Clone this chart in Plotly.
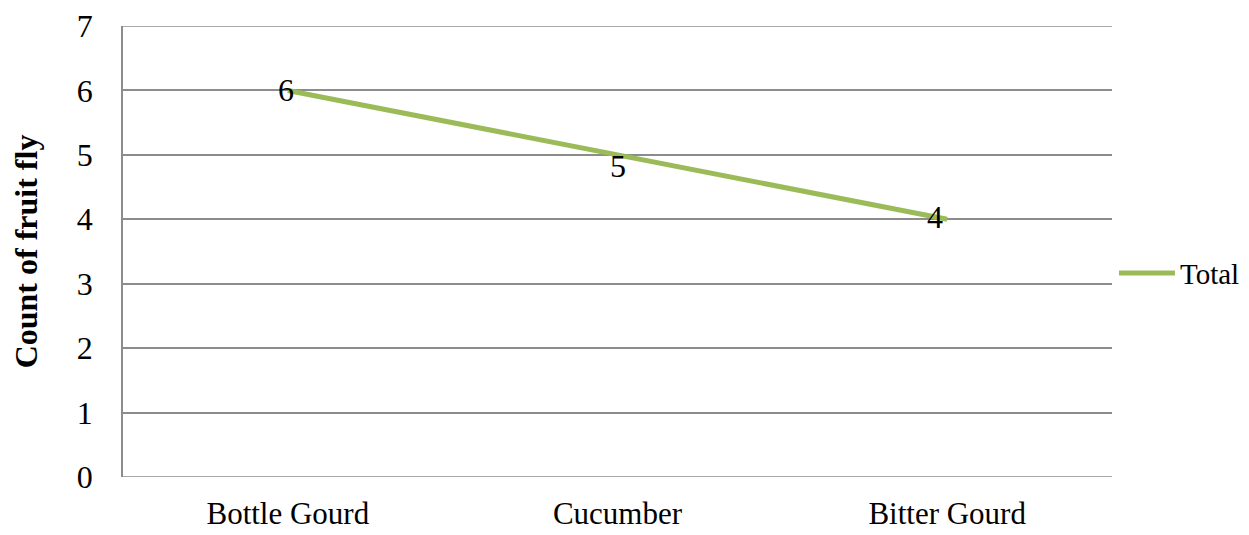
import plotly.graph_objects as go

categories = ["Bottle Gourd", "Cucumber", "Bitter Gourd"]
counts = [6, 5, 4]
series_name = "Total"

FONT = "Liberation Serif, Times New Roman, serif"
GREEN = "#9BBB59"
GRID = "#8C8C8C"

fig = go.Figure()
fig.add_trace(go.Scatter(
    x=categories, y=counts, mode="lines", name=series_name,
    line=dict(color=GREEN, width=5),
))

# data labels, nudged around each point
label_shift = [(-2, 0), (0, -11), (-12, 2)]
for cat, val, (dx, dy) in zip(categories, counts, label_shift):
    fig.add_annotation(x=cat, y=val, text=str(val), showarrow=False,
                       xshift=dx, yshift=dy,
                       font=dict(family=FONT, size=32, color="black"))

fig.update_layout(
    width=1249, height=535,
    margin=dict(l=123, r=137, t=26, b=58, autoexpand=False),
    paper_bgcolor="white", plot_bgcolor="white",
    font=dict(family=FONT, size=32, color="black"),
    showlegend=True,
    legend=dict(x=1.002, y=0.452, xanchor="left", yanchor="middle",
                font=dict(family=FONT, size=29), itemwidth=56,
                bgcolor="rgba(0,0,0,0)"),
)
fig.update_xaxes(
    type="category", range=[-0.5, 2.5], showgrid=False, automargin=False,
    showline=False, ticks="", ticklabelstandoff=15,
    tickfont=dict(family=FONT, size=31),
)
fig.update_yaxes(
    range=[0, 7], dtick=1, showgrid=True, gridcolor=GRID, gridwidth=1.5,
    showline=True, linecolor=GRID, linewidth=1.5, zeroline=False,
    ticks="", ticklabelstandoff=22, automargin=False,
    tickfont=dict(family=FONT, size=32),
    title=dict(text="<b>Count of fruit fly</b>", standoff=30,
               font=dict(family=FONT, size=32)),
)
fig.add_shape(type="line", xref="paper", yref="y", x0=0, x1=1, y0=7, y1=7,
              line=dict(color=GRID, width=1.5))
fig.add_shape(type="line", xref="paper", yref="y", x0=0, x1=1, y0=0, y1=0,
              line=dict(color=GRID, width=1.5))

fig.write_html("out.html")
